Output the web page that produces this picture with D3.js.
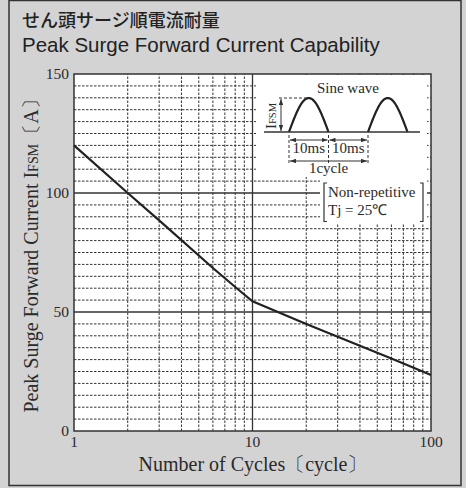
<!DOCTYPE html>
<html>
<head>
<meta charset="utf-8">
<script src="https://cdn.jsdelivr.net/npm/d3@7"></script>
<style>
  body { margin: 0; background: #d3d3d3; }
  svg { display: block; }
  .serif { font-family: "Liberation Serif", "Times New Roman", serif; fill: #2a2a2a; }
</style>
</head>
<body>
<div class="chart"></div>
<script>
// surge current vs number of cycles
var cycles = [1, 2, 3, 6, 8, 10, 20, 60, 100];
var ifsm = [120, 100, 88.5, 68.5, 60.5, 54.5, 45, 30.5, 23.5];

var yTicks = [0, 50, 100, 150];
var xTicks = [1, 10, 100];
var yMajor = [50, 100];
var xMajor = [10];

var width = 466, height = 488;

var svg = d3.select(".chart").append("svg")
    .attr("width", width)
    .attr("height", height);

svg.append("rect")
    .attr("width", width).attr("height", height)
    .attr("fill", "#d3d3d3");

// outer frame
svg.append("rect")
    .attr("x", 9).attr("y", 0.5)
    .attr("width", 452).attr("height", 485)
    .attr("fill", "none")
    .attr("stroke", "#333")
    .attr("stroke-width", 1.5);

// titles
svg.append("text")
    .attr("x", 22).attr("y", 27)
    .style("font-family", "'Noto Sans CJK JP', sans-serif")
    .style("font-size", "18px")
    .style("font-weight", 500)
    .attr("fill", "#222")
    .text("せん頭サージ順電流耐量");

svg.append("text")
    .attr("x", 22).attr("y", 52)
    .style("font-family", "'Liberation Sans', Arial, sans-serif")
    .style("font-size", "20.5px")
    .attr("fill", "#222")
    .text("Peak Surge Forward Current Capability");

var x = d3.scaleLog().domain([1, 100]).range([74, 431]);
var y = d3.scaleLinear().domain([0, 150]).range([431, 74]);

var g = svg.append("g");

g.append("rect")
    .attr("x", x(1)).attr("y", y(150))
    .attr("width", x(100) - x(1)).attr("height", y(0) - y(150))
    .attr("fill", "#fff");

// minor grid
var xMinor = x.ticks().filter(function(d) { return xTicks.indexOf(d) < 0; });
var yMinor = d3.range(5, 150, 5).filter(function(d) { return yMajor.indexOf(d) < 0; });

g.selectAll(".vgrid")
  .data(xMinor)
  .enter().append("line")
    .attr("class", "vgrid")
    .attr("x1", function(d) { return x(d); })
    .attr("x2", function(d) { return x(d); })
    .attr("y1", y(0)).attr("y2", y(150))
    .attr("stroke", "#333")
    .attr("stroke-width", 1)
    .attr("stroke-dasharray", "2.5,1.5");

g.selectAll(".hgrid")
  .data(yMinor)
  .enter().append("line")
    .attr("class", "hgrid")
    .attr("x1", x(1)).attr("x2", x(100))
    .attr("y1", function(d) { return y(d); })
    .attr("y2", function(d) { return y(d); })
    .attr("stroke", "#333")
    .attr("stroke-width", 1)
    .attr("stroke-dasharray", "2.5,1.5");

g.selectAll(".hmajor")
  .data(yMajor)
  .enter().append("line")
    .attr("x1", x(1)).attr("x2", x(100))
    .attr("y1", function(d) { return y(d); })
    .attr("y2", function(d) { return y(d); })
    .attr("stroke", "#333")
    .attr("stroke-width", 1.3);

// white areas behind the inset notes
g.append("rect")
    .attr("x", 256).attr("y", 75)
    .attr("width", 171).attr("height", 102)
    .attr("fill", "#fff");
g.append("rect")
    .attr("x", 320).attr("y", 176)
    .attr("width", 107).attr("height", 48)
    .attr("fill", "#fff");

g.selectAll(".vmajor")
  .data(xMajor)
  .enter().append("line")
    .attr("x1", function(d) { return x(d); })
    .attr("x2", function(d) { return x(d); })
    .attr("y1", y(0)).attr("y2", y(150))
    .attr("stroke", "#333")
    .attr("stroke-width", 1.3);

g.append("rect")
    .attr("x", x(1)).attr("y", y(150))
    .attr("width", x(100) - x(1)).attr("height", y(0) - y(150))
    .attr("fill", "none")
    .attr("stroke", "#333")
    .attr("stroke-width", 1.5);

// curve
var line = d3.line()
    .x(function(d, i) { return x(cycles[i]); })
    .y(function(d) { return y(d); });

g.append("path")
    .datum(ifsm)
    .attr("d", line)
    .attr("fill", "none")
    .attr("stroke", "#222")
    .attr("stroke-width", 2.2);

// tick labels
svg.selectAll(".ylab")
  .data(yTicks)
  .enter().append("text")
    .attr("class", "serif")
    .attr("x", 69)
    .attr("y", function(d) { return y(d); })
    .attr("dy", "0.35em")
    .attr("text-anchor", "end")
    .style("font-size", "15.5px")
    .text(function(d) { return d; });

svg.selectAll(".xlab")
  .data(xTicks)
  .enter().append("text")
    .attr("class", "serif")
    .attr("x", function(d) { return x(d); })
    .attr("y", 447)
    .attr("text-anchor", "middle")
    .style("font-size", "15.5px")
    .text(function(d) { return d; });

// axis titles
svg.append("text")
    .attr("class", "serif")
    .attr("x", 253).attr("y", 471)
    .attr("text-anchor", "middle")
    .style("font-size", "20px")
    .text("Number of Cycles〔cycle〕");

var yt = svg.append("text")
    .attr("class", "serif")
    .attr("transform", "translate(38,251) rotate(-90)")
    .attr("text-anchor", "middle")
    .style("font-size", "20px");
yt.append("tspan").text("Peak Surge Forward Current  I");
yt.append("tspan").style("font-size", "14px").text("FSM");
yt.append("tspan").text("〔A〕");

// inset: sine wave sketch
var inset = svg.append("g");
var base = 132, peak = 98, hw = 39.5, x0 = 289;
var hump = d3.line()
    .x(function(d) { return d[0]; })
    .y(function(d) { return d[1]; });
[x0, x0 + 2 * hw].forEach(function(s) {
  var pts = d3.range(0, 41).map(function(k) {
    var t = k / 40;
    return [s + t * hw, base - (base - peak) * Math.sin(Math.PI * t)];
  });
  inset.append("path")
      .attr("d", hump(pts))
      .attr("fill", "none")
      .attr("stroke", "#222")
      .attr("stroke-width", 2.2);
});
inset.append("line")
    .attr("x1", 264).attr("x2", 420).attr("y1", base).attr("y2", base)
    .attr("stroke", "#333").attr("stroke-width", 1.3);
inset.append("line")
    .attr("x1", 279).attr("x2", x0 + hw / 2).attr("y1", peak).attr("y2", peak)
    .attr("stroke", "#333").attr("stroke-width", 1).attr("stroke-dasharray", "3,2");

var defs = svg.append("defs");
defs.append("marker")
    .attr("id", "arr")
    .attr("viewBox", "0 0 8 6")
    .attr("refX", 8).attr("refY", 3)
    .attr("markerWidth", 6).attr("markerHeight", 4.5)
    .attr("orient", "auto-start-reverse")
  .append("path")
    .attr("d", "M0,0L8,3L0,6Z")
    .attr("fill", "#333");

inset.append("line")
    .attr("x1", 281).attr("x2", 281).attr("y1", peak + 1).attr("y2", base - 1)
    .attr("stroke", "#333").attr("stroke-width", 1)
    .attr("marker-start", "url(#arr)").attr("marker-end", "url(#arr)");

var iv = inset.append("text")
    .attr("class", "serif")
    .attr("transform", "translate(276,116) rotate(-90)")
    .attr("text-anchor", "middle")
    .style("font-size", "15px");
iv.append("tspan").text("I");
iv.append("tspan").style("font-size", "10.5px").text("FSM");

[x0, x0 + hw, x0 + 2 * hw].forEach(function(s) {
  inset.append("line")
      .attr("x1", s).attr("x2", s).attr("y1", 135).attr("y2", 165)
      .attr("stroke", "#333").attr("stroke-width", 1).attr("stroke-dasharray", "3,2");
});
[[x0, x0 + hw, 140], [x0 + hw, x0 + 2 * hw, 140], [x0, x0 + 2 * hw, 161]].forEach(function(a) {
  inset.append("line")
      .attr("x1", a[0] + 1).attr("x2", a[1] - 1).attr("y1", a[2]).attr("y2", a[2])
      .attr("stroke", "#333").attr("stroke-width", 1)
      .attr("marker-start", "url(#arr)").attr("marker-end", "url(#arr)");
});

inset.append("text").attr("class", "serif")
    .attr("x", 348).attr("y", 93).attr("text-anchor", "middle")
    .style("font-size", "15px").text("Sine wave");
inset.append("text").attr("class", "serif")
    .attr("x", x0 + hw / 2).attr("y", 153).attr("text-anchor", "middle")
    .style("font-size", "15px").text("10ms");
inset.append("text").attr("class", "serif")
    .attr("x", x0 + hw * 1.5).attr("y", 153).attr("text-anchor", "middle")
    .style("font-size", "15px").text("10ms");
inset.append("text").attr("class", "serif")
    .attr("x", x0 + hw).attr("y", 173).attr("text-anchor", "middle")
    .style("font-size", "15px").text("1cycle");

// condition note with brackets
inset.append("text").attr("class", "serif")
    .attr("x", 328).attr("y", 197)
    .style("font-size", "15px").text("Non-repetitive");
inset.append("text").attr("class", "serif")
    .attr("x", 328).attr("y", 215)
    .style("font-size", "15px").text("Tj = 25℃");
inset.append("path")
    .attr("d", "M327,183L324,183L324,221.5L327,221.5")
    .attr("fill", "none").attr("stroke", "#333").attr("stroke-width", 1.2);
inset.append("path")
    .attr("d", "M420,183L423,183L423,221.5L420,221.5")
    .attr("fill", "none").attr("stroke", "#333").attr("stroke-width", 1.2);
</script>
</body>
</html>
